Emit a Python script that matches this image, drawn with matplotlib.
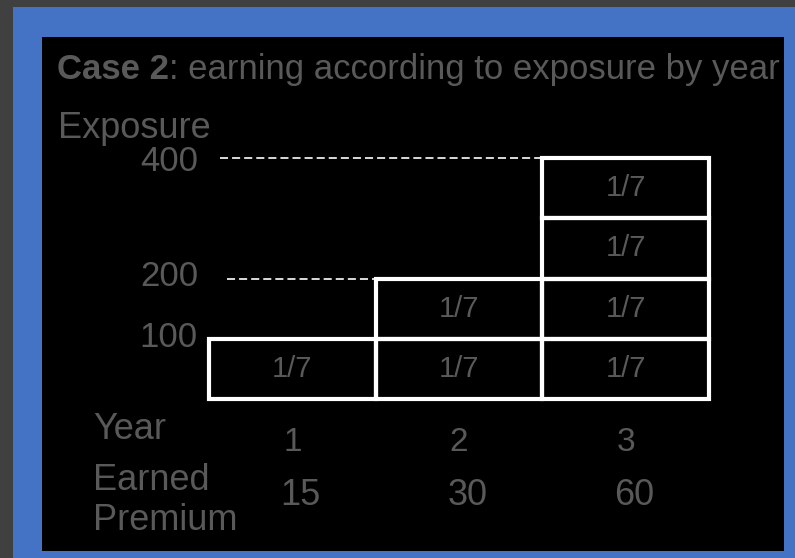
import matplotlib
matplotlib.use("Agg")
import matplotlib.pyplot as plt
from matplotlib.patches import Rectangle
import matplotlib.transforms as mtransforms

# exposure units earned per year, one box per 100 of exposure
years = [1, 2, 3]
exposure = [100, 200, 400]
premium = [15, 30, 60]
unit = 100
exposure_ticks = [100, 200, 400]

W, H = 795, 558
grey_txt = "#595959"
plt.rcParams["font.family"] = ["Liberation Sans", "DejaVu Sans"]
plt.rcParams["lines.scale_dashes"] = False

fig = plt.figure(figsize=(W / 100, H / 100), dpi=100, facecolor="#404040")

def fx(px):
    return px / W

def fy(py):
    return 1 - py / H

# blue frame and black slide area, kept under the axes
fig.patches.append(Rectangle((fx(13), 0), 1 - fx(13), fy(7), transform=fig.transFigure,
                             facecolor="#4472C4", edgecolor="none", zorder=-2))
fig.patches.append(Rectangle((fx(42), fy(551)), fx(784) - fx(42), fy(37) - fy(551),
                             transform=fig.transFigure, facecolor="black",
                             edgecolor="none", zorder=-1))

# axes: years 0.5..3.5 across, exposure 0..400 up
ax = fig.add_axes([fx(209), fy(399), fx(709) - fx(209), fy(158) - fy(399)])
ax.set_facecolor("none")
ax.set_xlim(0.5, 3.5)
ax.set_ylim(0, 400)
for s in ax.spines.values():
    s.set_visible(False)

total_boxes = sum(e // unit for e in exposure)
share = f"1/{total_boxes}"
for yr, e in zip(years, exposure):
    for k in range(e // unit):
        ax.add_patch(Rectangle((yr - 0.5, k * unit), 1, unit, facecolor="none",
                               edgecolor="white", lw=3, clip_on=False, zorder=3))
        ax.text(yr, k * unit + unit / 2, share, ha="center", va="center",
                fontsize=21, color=grey_txt)

# dashed guides to the exposure levels
ax.plot([0.566, years[2] - 0.5], [exposure[2]] * 2, color="white", lw=1.2,
        dashes=(5.8, 2.9), clip_on=False, zorder=2)
ax.plot([0.608, years[1] - 0.5], [exposure[1]] * 2, color="white", lw=1.2,
        dashes=(5.8, 2.9), clip_on=False, zorder=2)

ax.set_yticks(exposure_ticks)
ax.set_yticklabels([str(t) for t in exposure_ticks])
ax.set_xticks(years)
ax.set_xticklabels([str(y) for y in years])
ax.tick_params(axis="y", length=0, pad=8, labelsize=25, labelcolor=grey_txt)
ax.tick_params(axis="x", length=0, pad=20, labelsize=24, labelcolor=grey_txt)
# lower labels sit a little above their lines
lift = mtransforms.ScaledTranslation(0, 5 / 100, fig.dpi_scale_trans)
for lbl in ax.get_yticklabels()[:2]:
    lbl.set_transform(lbl.get_transform() + lift)

# earned premium row under the year labels
row = mtransforms.blended_transform_factory(ax.transData, fig.transFigure)
for yr, p in zip(years, premium):
    ax.text(yr + 0.05, fy(505), str(p), transform=row, ha="center", va="baseline",
            fontsize=26, color=grey_txt)

# title and row captions
t1 = fig.text(fx(57), fy(79), "Case 2", fontsize=25, fontweight="bold",
              color=grey_txt, va="baseline")
fig.add_artist(plt.Annotation(": earning according to exposure by year",
                              xy=(1, 0), xycoords=t1, va="bottom", ha="left",
                              fontsize=25, color=grey_txt))
fig.text(fx(58), fy(138), "Exposure", fontsize=26, color=grey_txt, va="baseline")
fig.text(fx(93), fy(439), "Year", fontsize=26, color=grey_txt, va="baseline")
fig.text(fx(93), fy(490), "Earned", fontsize=26, color=grey_txt, va="baseline")
fig.text(fx(93), fy(530), "Premium", fontsize=26, color=grey_txt, va="baseline")

fig.savefig("out.png", dpi=100, facecolor=fig.get_facecolor())
